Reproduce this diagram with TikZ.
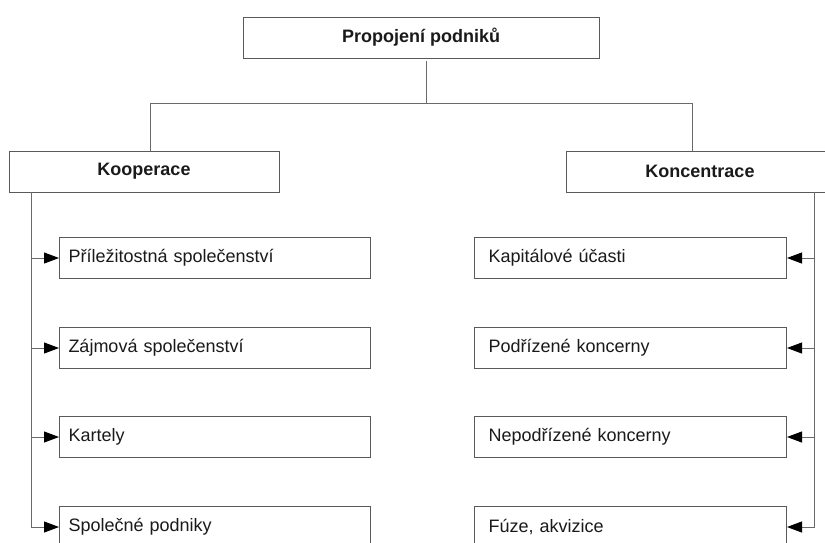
\documentclass[tikz,border=0pt]{standalone}
\usepackage{fontspec}
\setmainfont{Liberation Sans}
\usetikzlibrary{arrows.meta,calc}
\definecolor{boxgray}{HTML}{5A5A5A}
\definecolor{linegray}{HTML}{6A6A6A}
\definecolor{txt}{HTML}{1A1A1A}
\begin{document}
\begin{tikzpicture}[x=1pt,y=-1pt,
  box/.style={draw=boxgray,line width=1pt,fill=white,inner ysep=0pt,font=\fontsize{18}{21}\selectfont,text=txt},
  headbox/.style={box,font=\fontsize{18}{21}\selectfont\bfseries,minimum height=41pt},
  leftbox/.style={box,anchor=north west,minimum height=41pt,inner xsep=9pt,text width=293pt,align=left},
  rightbox/.style={box,anchor=north west,minimum height=41pt,inner xsep=14pt,text width=284pt,align=left},
  conn/.style={draw=linegray,line width=1pt},
  arr/.style={conn,-{Triangle[length=15pt,width=11pt,color=black]}}]
\useasboundingbox (0,0) rectangle (825,542);
\clip (0,0) rectangle (825,542);
\fill[white] (0,0) rectangle (825,542);
% coordinates of junctions
\coordinate (bus) at (426,103);
\coordinate (busL) at (150,103);
\coordinate (busR) at (692,103);
\coordinate (trL) at (31,192);
\coordinate (trR) at (814,192);
% connectors first (behind boxes)
\draw[conn] (426,61) -- (bus);
\draw[conn] (busL) -- (busR);
\draw[conn] (busL) -- (150,151);
\draw[conn] (busR) -- (692,151);
% nodes
\node[headbox,minimum width=356pt] (top) at (421,37.5) {Propojení podniků};
\node[headbox,minimum width=270pt] (koop) at (144,171.5) {Kooperace};
\node[headbox,minimum width=268pt] (konc) at (700,171.5) {Koncentrace};
\node[leftbox] (l1) at (59,237) {Příležitostná společenství};
\node[leftbox] (l2) at (59,327) {Zájmová společenství};
\node[leftbox] (l3) at (59,416) {Kartely};
\node[leftbox] (l4) at (59,506) {Společné podniky};
\node[rightbox] (r1) at (474,237) {Kapitálové účasti};
\node[rightbox] (r2) at (474,327) {Podřízené koncerny};
\node[rightbox] (r3) at (474,416) {Nepodřízené koncerny};
\node[rightbox] (r4) at (474,506) {Fúze, akvizice};
% arrows
\foreach \n in {l1,l2,l3,l4}{\draw[arr] (trL) |- (\n.west);}
\foreach \n in {r1,r2,r3,r4}{\draw[arr] (trR) |- (\n.east);}
\end{tikzpicture}
\end{document}
